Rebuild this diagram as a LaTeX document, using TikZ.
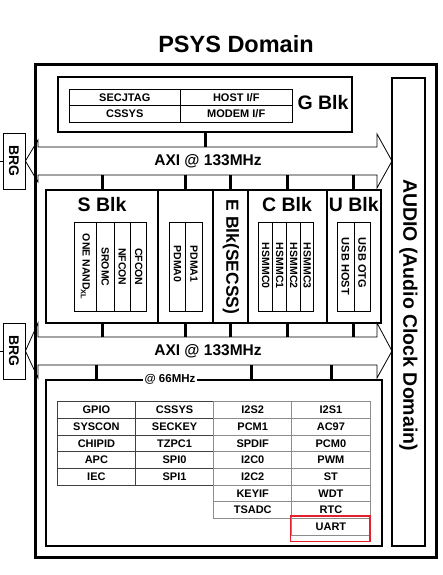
\documentclass[tikz,border=0pt]{standalone}
\usepackage{fontspec}
\setmainfont{Liberation Sans}
\begin{document}
\begin{tikzpicture}[x=1pt,y=-1pt,
  fs/.style={font=\fontsize{#1}{#1}\selectfont\bfseries},
  box/.style={draw, line width=#1, inner sep=0pt},
  stub/.style={line width=3pt},
  bus/.style={draw, line width=0.8pt, line join=miter},
  gcell/.style={draw, line width=0.9pt, inner sep=0pt, minimum width=111.5pt, minimum height=16.5pt, fs=11},
  tcell/.style={draw=#1, line width=0.8pt, inner sep=0pt, minimum width=78.2pt, minimum height=16.67pt, fs=11},
  vcell/.style={draw, line width=0.9pt, inner sep=0pt, minimum height=89.7pt},
  vtxt/.style={rotate=-90, fs=10.5, inner sep=0pt}
]
\useasboundingbox (0,0) rectangle (443,575);

% title
\node[fs=23.5] (title) at (236,44) {PSYS Domain};

% outer domain box and audio box
\node[box=3pt, minimum width=401.5pt, minimum height=492.5pt] (outer) at (235.75,311.25) {};
\node[box=1.5pt, minimum width=33pt, minimum height=468pt] (audio) at (408.5,312) {};
\node[rotate=-90, fs=19.5] (audiotxt) at (408.5,315) {AUDIO (Audio Clock Domain)};

% G block
\node[box=2pt, minimum width=294pt, minimum height=55pt] (gblk) at (205,104.5) {};
\node[gcell] (g11) at (124.75,97.25) {SECJTAG};
\node[gcell] (g12) at (236.25,97.25) {HOST I/F};
\node[gcell] (g21) at (124.75,113.75) {CSSYS};
\node[gcell] (g22) at (236.25,113.75) {MODEM I/F};
\node[fs=19.5] (gtxt) at (323,103) {G Blk};

% BRG boxes
\node[draw, line width=0.8pt, rotate=-90, minimum width=56pt, minimum height=22pt, inner sep=0pt, fs=14] (brg1) at (14,161) {BRG};
\node[draw, line width=0.8pt, rotate=-90, minimum width=56pt, minimum height=22pt, inner sep=0pt, fs=14] (brg2) at (14,351) {BRG};
\draw[line width=1pt] (brg1.south) -- ++(-3,0);
\draw[line width=1pt] (brg2.south) -- ++(-3,0);

% buses
\draw[bus] (38,147) -- (377,147) -- (377,134) -- (392,161) -- (377,188) -- (377,175)
  -- (38,175) -- (38,182) -- (brg1.north) -- (38,140) -- cycle;
\node[fs=15.5] (axi1) at (208,161) {AXI @ 133MHz};
\draw[bus] (38,337) -- (377,337) -- (377,323) -- (392,351) -- (377,378) -- (377,365)
  -- (38,365) -- (38,378) -- (brg2.north) -- (38,323) -- cycle;
\node[fs=15.5] (axi2) at (208,351) {AXI @ 133MHz};

\coordinate (b1n) at (0,147);
\coordinate (b1s) at (0,175);
\coordinate (b2n) at (0,337);
\coordinate (b2s) at (0,365);

% middle blocks
\node[box=2pt, minimum width=112.3pt, minimum height=133pt] (sblk) at (102.15,256.5) {};
\node[box=2pt, minimum width=55pt, minimum height=133pt] (pblk) at (185.8,256.5) {};
\node[box=2pt, minimum width=35pt, minimum height=133pt] (eblk) at (230.8,256.5) {};
\node[box=2pt, minimum width=78.4pt, minimum height=133pt] (cblk) at (287.5,256.5) {};
\node[box=2pt, minimum width=54.3pt, minimum height=133pt] (ublk) at (353.85,256.5) {};

\node[fs=19.5] (stxt) at (102,205) {S Blk};
\node[fs=19.5] (ctxt) at (287,205) {C Blk};
\node[fs=19.5] (utxt) at (353.8,205) {U Blk};
\node[rotate=-90, fs=17.5] (etxt) at (230.8,257) {E Blk(SECSS)};

% S inner table
\node[vcell, minimum width=22.7pt] (s1) at (85.35,266.85) {};
\node[vcell, minimum width=17.3pt] (s2) at (105.35,266.85) {};
\node[vcell, minimum width=16.7pt] (s3) at (122.35,266.85) {};
\node[vcell, minimum width=16pt] (s4) at (138.7,266.85) {};
\node[vtxt] at (s1) {ONE NAND\textsubscript{XL}};
\node[vtxt] at (s2) {SROMC};
\node[vtxt] at (s3) {NFCON};
\node[vtxt] at (s4) {CFCON};

% PDMA inner table
\node[vcell, minimum width=16.4pt] (p1) at (177.5,266.85) {};
\node[vcell, minimum width=16.6pt] (p2) at (194,266.85) {};
\node[vtxt] at (177.5,264) {PDMA0};
\node[vtxt] at (194,264) {PDMA1};

% C inner table
\node[vcell, minimum width=14.4pt] (c1) at (265.5,266.85) {};
\node[vcell, minimum width=14pt] (c2) at (279.7,266.85) {};
\node[vcell, minimum width=14pt] (c3) at (293.7,266.85) {};
\node[vcell, minimum width=12.6pt] (c4) at (307,266.85) {};
\node[vtxt] at (265.8,265.7) {HSMMC0};
\node[vtxt] at (279.7,265.7) {HSMMC1};
\node[vtxt] at (293.7,265.7) {HSMMC2};
\node[vtxt] at (307.3,265.7) {HSMMC3};

% U inner table
\node[vcell, minimum width=16.7pt] (u1) at (345.65,266.85) {};
\node[vcell, minimum width=16.7pt] (u2) at (362.35,266.85) {};
\node[vtxt, fs=11, anchor=west] at (345.4,237.7) {USB HOST};
\node[vtxt, fs=11, anchor=west] at (362.2,237.7) {USB OTG};

% stubs between blocks and buses
\draw[stub] (gblk.south) -- (gblk.south |- b1n);
\foreach \b in {sblk,pblk,eblk,cblk,ublk}{
  \draw[stub] (\b.north) -- (\b.north |- b1s);
  \draw[stub] (\b.south) -- (\b.south |- b2n);
}

% low-speed peripheral block
\node[box=2pt, minimum width=335.5pt, minimum height=166.5pt] (low) at (213.75,462.75) {};
\coordinate (l1) at (96.7,379.5);
\coordinate (l2) at (251.7,379.5);
\coordinate (l3) at (331.7,379.5);
\foreach \c in {l1,l2,l3}{ \draw[stub] (\c) -- (\c |- b2s); }
\node[fill=white, inner sep=1.2pt, fs=11.5] (mhz) at (170,379.5) {@ 66MHz};

% peripheral table
\foreach \r/\y/\a/\b/\c/\d in {
  1/410/GPIO/CSSYS/I2S2/I2S1,
  2/426.67/SYSCON/SECKEY/PCM1/AC97,
  3/443.33/CHIPID/TZPC1/SPDIF/PCM0,
  4/460/APC/SPI0/I2C0/PWM,
  5/476.67/IEC/SPI1/I2C2/ST}{
  \node[tcell=black!75] (t\r-1) at (96.39,\y) {\a};
  \node[tcell=black!75] (t\r-2) at (174.56,\y) {\b};
  \node[tcell=black!45] (t\r-3) at (252.74,\y) {\c};
  \node[tcell=black!45] (t\r-4) at (330.91,\y) {\d};
}
\node[tcell=black!45] (t6-3) at (252.74,493.33) {KEYIF};
\node[tcell=black!45] (t6-4) at (330.91,493.33) {WDT};
\node[tcell=black!45] (t7-3) at (252.74,510) {TSADC};
\node[tcell=black!45] (t7-4) at (330.91,510) {RTC};
\node[tcell=black!45] (t8-4) at (330.91,526.67) {UART};
\definecolor{hired}{RGB}{228,32,44}
\node[draw=hired, line width=1.5pt, inner sep=0pt, minimum width=79.3pt, minimum height=25.7pt] (hl) at (330.35,528.85) {};
\end{tikzpicture}
\end{document}
